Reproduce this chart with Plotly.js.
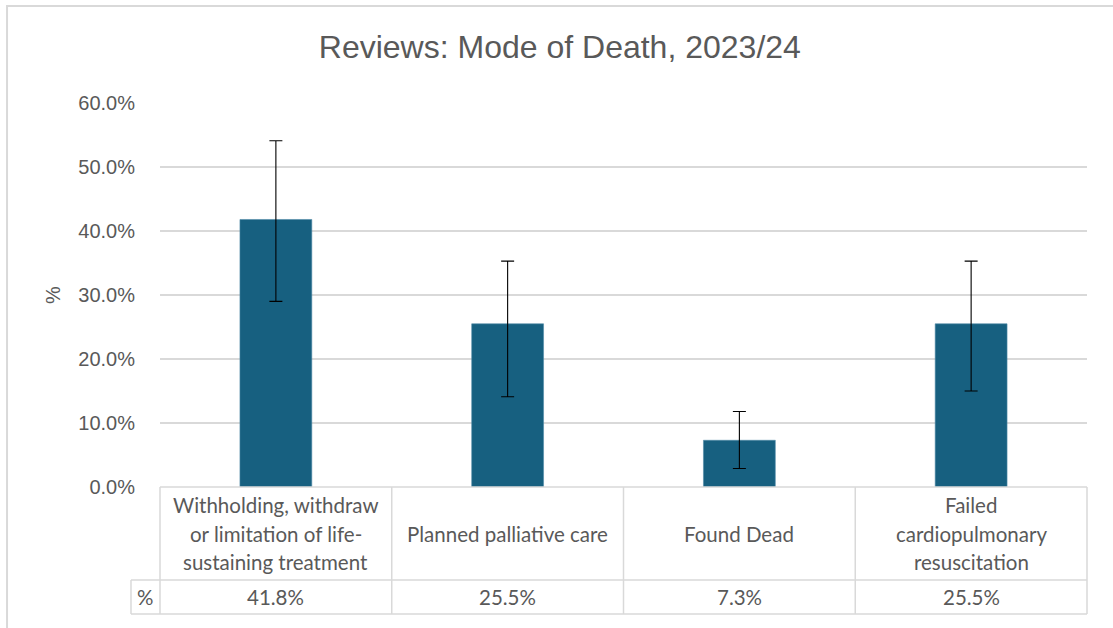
<!DOCTYPE html>
<html>
<head>
<meta charset="utf-8">
<script src="https://cdn.plot.ly/plotly-3.0.1.min.js"></script>
<style>
html,body{margin:0;padding:0;background:#fff;}
#chart{width:1113px;height:628px;}
</style>
</head>
<body>
<div id="chart"></div>
<script>
// ---- data ----
var categories = [
  "Withholding, withdraw or limitation of life-sustaining treatment",
  "Planned palliative care",
  "Found Dead",
  "Failed cardiopulmonary resuscitation"
];
var categoryLines = [
  ["Withholding, withdraw", "or limitation of life-", "sustaining treatment"],
  ["Planned palliative care"],
  ["Found Dead"],
  ["Failed", "cardiopulmonary", "resuscitation"]
];
var values = [41.8, 25.5, 7.3, 25.5];
var errPlus = [12.3, 9.8, 4.5, 9.8];
var errMinus = [12.8, 11.4, 4.4, 10.5];
var seriesName = "%";
var chartTitle = "Reviews: Mode of Death, 2023/24";
var yTicks = [0, 10, 20, 30, 40, 50, 60];

// ---- layout helpers ----
var textColor = "#595959";
var gridColor = "#d9d9d9";
var tableFont = {family: "Lato, 'Noto Sans', sans-serif", size: 20.5, color: textColor};
var axisFontFamily = "'Liberation Sans', Arial, sans-serif";
var row1Top = 0, row1Bottom = -0.2422, row2Bottom = -0.3307;
var labelColLeft = -0.0313;

var xIdx = categories.map(function(_, i){ return i; });

var shapes = [];
var annotations = [];

// outer chart border
shapes.push({type: "rect", xref: "paper", yref: "paper", x0: -0.165, x1: 1.05, y0: -0.42, y1: 1.2526,
  line: {color: gridColor, width: 2}, fillcolor: "rgba(0,0,0,0)", layer: "below"});

// data table: horizontal lines
shapes.push({type: "line", xref: "paper", yref: "paper", x0: 0, x1: 1, y0: row1Top, y1: row1Top, line: {color: gridColor, width: 1.5}});
shapes.push({type: "line", xref: "paper", yref: "paper", x0: labelColLeft, x1: 1, y0: row1Bottom, y1: row1Bottom, line: {color: gridColor, width: 1.5}});
shapes.push({type: "line", xref: "paper", yref: "paper", x0: labelColLeft, x1: 1, y0: row2Bottom, y1: row2Bottom, line: {color: gridColor, width: 1.5}});
// left edge of series-name cell
shapes.push({type: "line", xref: "paper", yref: "paper", x0: labelColLeft, x1: labelColLeft, y0: row1Bottom, y1: row2Bottom, line: {color: gridColor, width: 1.5}});
// column separators
for (var i = 0; i <= categories.length; i++) {
  var xp = i / categories.length;
  shapes.push({type: "line", xref: "paper", yref: "paper", x0: xp, x1: xp, y0: row1Top, y1: row2Bottom, line: {color: gridColor, width: 1.5}});
}

// category cell text
var lineGap = 28.5;
categoryLines.forEach(function(lines, i){
  var n = lines.length;
  lines.forEach(function(t, k){
    annotations.push({
      xref: "paper", yref: "paper",
      x: (i + 0.5) / categories.length, y: (row1Top + row1Bottom) / 2,
      text: t, showarrow: false, font: tableFont,
      xanchor: "center", yanchor: "middle",
      yshift: ((n - 1) / 2 - k) * lineGap
    });
  });
  annotations.push({
    xref: "paper", yref: "paper",
    x: (i + 0.5) / categories.length, y: (row1Bottom + row2Bottom) / 2,
    text: values[i].toFixed(1) + "%", showarrow: false, font: tableFont,
    xanchor: "center", yanchor: "middle"
  });
});
annotations.push({
  xref: "paper", yref: "paper",
  x: labelColLeft / 2, y: (row1Bottom + row2Bottom) / 2,
  text: seriesName, showarrow: false, font: tableFont,
  xanchor: "center", yanchor: "middle"
});

var trace = {
  type: "bar",
  x: xIdx,
  y: values,
  name: seriesName,
  marker: {color: "#176080", line: {color: "#4f8aa6", width: 0.6}},
  width: 0.31,
  error_y: {type: "data", symmetric: false, array: errPlus, arrayminus: errMinus,
            color: "#000000", thickness: 1.1, width: 6.5},
  hoverinfo: "skip"
};

var layout = {
  width: 1113, height: 628,
  margin: {l: 160, r: 26, t: 103, b: 141},
  paper_bgcolor: "#ffffff", plot_bgcolor: "#ffffff",
  showlegend: false,
  bargap: 0,
  title: {text: chartTitle, x: 0.503, xanchor: "center", y: 0.925, yanchor: "middle",
          font: {family: axisFontFamily, size: 32, color: textColor}},
  xaxis: {
    type: "linear", range: [-0.5, categories.length - 0.5],
    showticklabels: false, showgrid: false, zeroline: false, ticks: "", fixedrange: true
  },
  yaxis: {
    range: [0, 60], tickvals: yTicks, ticktext: yTicks.map(function(v){ return v.toFixed(1) + "%"; }),
    showgrid: true, gridcolor: gridColor, gridwidth: 1.5, zeroline: false,
    ticks: "outside", ticklen: 20, tickcolor: "rgba(0,0,0,0)",
    tickfont: {family: axisFontFamily, size: 20, color: textColor},
    title: {text: "%", standoff: 12, font: {family: axisFontFamily, size: 20, color: textColor}},
    fixedrange: true
  },
  shapes: shapes,
  annotations: annotations
};

Plotly.newPlot("chart", [trace], layout, {displayModeBar: false, staticPlot: true});
</script>
</body>
</html>
